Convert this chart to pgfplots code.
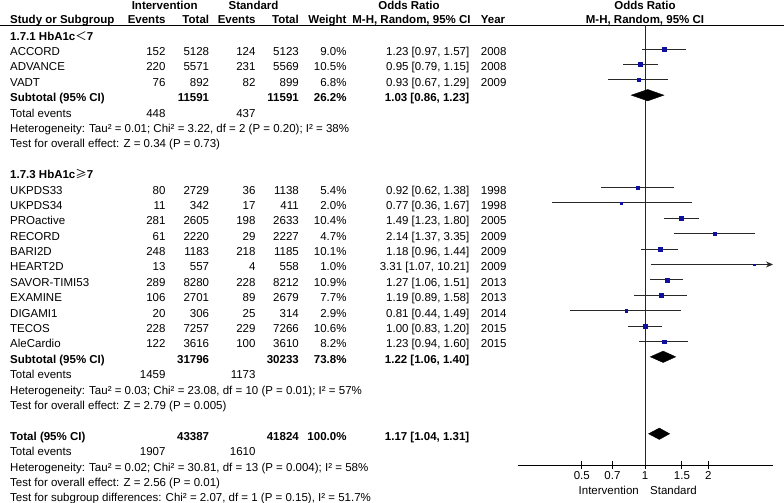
\documentclass[border=0pt]{standalone}
\usepackage{pgfplots}
\pgfplotsset{compat=1.18}
\usepackage{fontspec}
\setmainfont{Liberation Sans}
\newfontfamily\cjk{Noto Sans CJK SC}
\usetikzlibrary{arrows.meta}
\definecolor{sqblue}{RGB}{16,16,160}
\definecolor{cigray}{RGB}{40,40,40}

\newcommand\Lt[3]{\node[anchor=base west,inner sep=0pt] at (#1,{-(40.1+15.39*(#2))}) {#3};}
\newcommand\Rt[3]{\node[anchor=base east,inner sep=0pt] at (#1,{-(40.1+15.39*(#2))}) {#3};}
\newcommand\study[9]{\Lt{10}{#1}{#2}\Rt{165.7}{#1}{#3}\Rt{209.3}{#1}{#4}\Rt{255.7}{#1}{#5}\Rt{299}{#1}{#6}\Rt{346.7}{#1}{#7}\Rt{469.5}{#1}{#8}\Lt{480.7}{#1}{#9}}

\begin{document}
\fontsize{11.5bp}{13bp}\selectfont
\begin{tikzpicture}
\useasboundingbox (0bp,0bp) rectangle (784bp,-503bp);
\begin{scope}[x=1bp,y=1bp]
% header
\node[anchor=base,inner sep=0pt,font=\bfseries] at (164.7,-9.5) {Intervention};
\node[anchor=base,inner sep=0pt,font=\bfseries] at (253.5,-9.5) {Standard};
\node[anchor=base,inner sep=0pt,font=\bfseries] at (409,-9.5) {Odds Ratio};
\node[anchor=base,inner sep=0pt,font=\bfseries] at (645,-9.5) {Odds Ratio};
\node[anchor=base west,inner sep=0pt,font=\bfseries] at (10,-23.5) {Study or Subgroup};
\node[anchor=base east,inner sep=0pt,font=\bfseries] at (165.7,-23.5) {Events};
\node[anchor=base east,inner sep=0pt,font=\bfseries] at (209.3,-23.5) {Total};
\node[anchor=base east,inner sep=0pt,font=\bfseries] at (255.7,-23.5) {Events};
\node[anchor=base east,inner sep=0pt,font=\bfseries] at (299,-23.5) {Total};
\node[anchor=base east,inner sep=0pt,font=\bfseries] at (346.7,-23.5) {Weight};
\node[anchor=base,inner sep=0pt,font=\bfseries] at (411.5,-23.5) {M-H, Random, 95\% CI};
\node[anchor=base west,inner sep=0pt,font=\bfseries] at (480.7,-23.5) {Year};
\node[anchor=base,inner sep=0pt,font=\bfseries] at (645,-23.5) {M-H, Random, 95\% CI};
\draw[black,line width=1bp] (0,-25) -- (784,-25);
% subgroup 1
\Lt{10}{0}{\bfseries 1.7.1 HbA1c{\cjk\mdseries ＜}7}
\study{1}{ACCORD}{152}{5128}{124}{5123}{9.0\%}{1.23 [0.97, 1.57]}{2008}
\study{2}{ADVANCE}{220}{5571}{231}{5569}{10.5\%}{0.95 [0.79, 1.15]}{2008}
\study{3}{VADT}{76}{892}{82}{899}{6.8\%}{0.93 [0.67, 1.29]}{2009}
\Lt{10}{4}{\bfseries Subtotal (95\% CI)}
\Rt{209.3}{4}{\bfseries 11591}\Rt{299}{4}{\bfseries 11591}\Rt{346.7}{4}{\bfseries 26.2\%}\Rt{469.5}{4}{\bfseries 1.03 [0.86, 1.23]}
\Lt{10}{5}{Total events}\Rt{165.7}{5}{448}\Rt{255.7}{5}{437}
\Lt{10}{6}{Heterogeneity: Tau² = 0.01; Chi² = 3.22, df = 2 (P = 0.20); I² = 38\%}
\Lt{10}{7}{Test for overall effect: Z = 0.34 (P = 0.73)}
% subgroup 2
\Lt{10}{9}{\bfseries 1.7.3 HbA1c{\cjk\mdseries ≥}7}
\study{10}{UKPDS33}{80}{2729}{36}{1138}{5.4\%}{0.92 [0.62, 1.38]}{1998}
\study{11}{UKPDS34}{11}{342}{17}{411}{2.0\%}{0.77 [0.36, 1.67]}{1998}
\study{12}{PROactive}{281}{2605}{198}{2633}{10.4\%}{1.49 [1.23, 1.80]}{2005}
\study{13}{RECORD}{61}{2220}{29}{2227}{4.7\%}{2.14 [1.37, 3.35]}{2009}
\study{14}{BARI2D}{248}{1183}{218}{1185}{10.1\%}{1.18 [0.96, 1.44]}{2009}
\study{15}{HEART2D}{13}{557}{4}{558}{1.0\%}{3.31 [1.07, 10.21]}{2009}
\study{16}{SAVOR-TIMI53}{289}{8280}{228}{8212}{10.9\%}{1.27 [1.06, 1.51]}{2013}
\study{17}{EXAMINE}{106}{2701}{89}{2679}{7.7\%}{1.19 [0.89, 1.58]}{2013}
\study{18}{DIGAMI1}{20}{306}{25}{314}{2.9\%}{0.81 [0.44, 1.49]}{2014}
\study{19}{TECOS}{228}{7257}{229}{7266}{10.6\%}{1.00 [0.83, 1.20]}{2015}
\study{20}{AleCardio}{122}{3616}{100}{3610}{8.2\%}{1.23 [0.94, 1.60]}{2015}
\Lt{10}{21}{\bfseries Subtotal (95\% CI)}
\Rt{209.3}{21}{\bfseries 31796}\Rt{299}{21}{\bfseries 30233}\Rt{346.7}{21}{\bfseries 73.8\%}\Rt{469.5}{21}{\bfseries 1.22 [1.06, 1.40]}
\Lt{10}{22}{Total events}\Rt{165.7}{22}{1459}\Rt{255.7}{22}{1173}
\Lt{10}{23}{Heterogeneity: Tau² = 0.03; Chi² = 23.08, df = 10 (P = 0.01); I² = 57\%}
\Lt{10}{24}{Test for overall effect: Z = 2.79 (P = 0.005)}
% total
\Lt{10}{26}{\bfseries Total (95\% CI)}
\Rt{209.3}{26}{\bfseries 43387}\Rt{299}{26}{\bfseries 41824}\Rt{346.7}{26}{\bfseries 100.0\%}\Rt{469.5}{26}{\bfseries 1.17 [1.04, 1.31]}
\Lt{10}{27}{Total events}\Rt{165.7}{27}{1907}\Rt{255.7}{27}{1610}
\Lt{10}{28}{Heterogeneity: Tau² = 0.02; Chi² = 30.81, df = 13 (P = 0.004); I² = 58\%}
\Lt{10}{29}{Test for overall effect: Z = 2.56 (P = 0.01)}
\Lt{10}{30}{Test for subgroup differences: Chi² = 2.07, df = 1 (P = 0.15), I² = 51.7\%}
% axis labels
\node[anchor=base east,inner sep=0pt] at (639,-494) {Intervention};
\node[anchor=base west,inner sep=0pt] at (650,-494) {Standard};
\end{scope}

\begin{axis}[
  at={(517.7bp,-465bp)}, anchor=south west,
  scale only axis, width=255.3bp, height=440bp,
  xmode=log, xmin=0.2476, xmax=4.07, ymin=-28.03, ymax=0.56,
  axis x line*=bottom, axis y line=none,
  xtick={0.5,0.7,1,1.5,2}, xticklabels={0.5,0.7,1,1.5,2}, minor xtick={},
  tick align=center, major tick length=8bp,
  tick style={black,line width=1bp},
  axis line style={black,line width=1bp},
  xticklabel style={font=\fontsize{11.5bp}{13bp}\selectfont, anchor=base, inner sep=0pt, yshift=-10.5bp},
  clip=false,
]
% line of no effect
\addplot[black!85, line width=1bp] coordinates {(1,0.56) (1,-28.03)};
% confidence intervals
\addplot[cigray, line width=1bp, unbounded coords=jump] table[x=x,y=y] {
x y
0.97 -1
1.57 -1
nan nan
0.79 -2
1.15 -2
nan nan
0.67 -3
1.29 -3
nan nan
0.62 -10
1.38 -10
nan nan
0.36 -11
1.67 -11
nan nan
1.23 -12
1.80 -12
nan nan
1.37 -13
3.35 -13
nan nan
0.96 -14
1.44 -14
nan nan
1.06 -16
1.51 -16
nan nan
0.89 -17
1.58 -17
nan nan
0.44 -18
1.49 -18
nan nan
0.83 -19
1.20 -19
nan nan
0.94 -20
1.60 -20
};
\addplot[cigray, line width=1bp, -{Stealth[length=7bp,width=6bp]}] coordinates {(1.07,-15) (4.07,-15)};
% study squares
\addplot[scatter, only marks, mark=square*,
  scatter/use mapped color={draw=sqblue,fill=sqblue},
  mark options={line width=0.1pt},
  visualization depends on={0.65*sqrt(\thisrow{w}) \as \msz},
  scatter/@pre marker code/.append style={/tikz/mark size=\msz bp}]
  table[x=or,y=y] {
or w y
1.23 9.0 -1
0.95 10.5 -2
0.93 6.8 -3
0.92 5.4 -10
0.77 2.0 -11
1.49 10.4 -12
2.14 4.7 -13
1.18 10.1 -14
3.31 1.0 -15
1.27 10.9 -16
1.19 7.7 -17
0.81 2.9 -18
1.00 10.6 -19
1.23 8.2 -20
};
% pooled diamonds
\addplot[black, fill=black] coordinates {(0.86,-4) (1.03,-3.63) (1.23,-4) (1.03,-4.37)} -- cycle;
\addplot[black, fill=black] coordinates {(1.06,-21) (1.22,-20.63) (1.40,-21) (1.22,-21.37)} -- cycle;
\addplot[black, fill=black] coordinates {(1.04,-26) (1.17,-25.63) (1.31,-26) (1.17,-26.37)} -- cycle;
\end{axis}
\end{tikzpicture}
\end{document}
